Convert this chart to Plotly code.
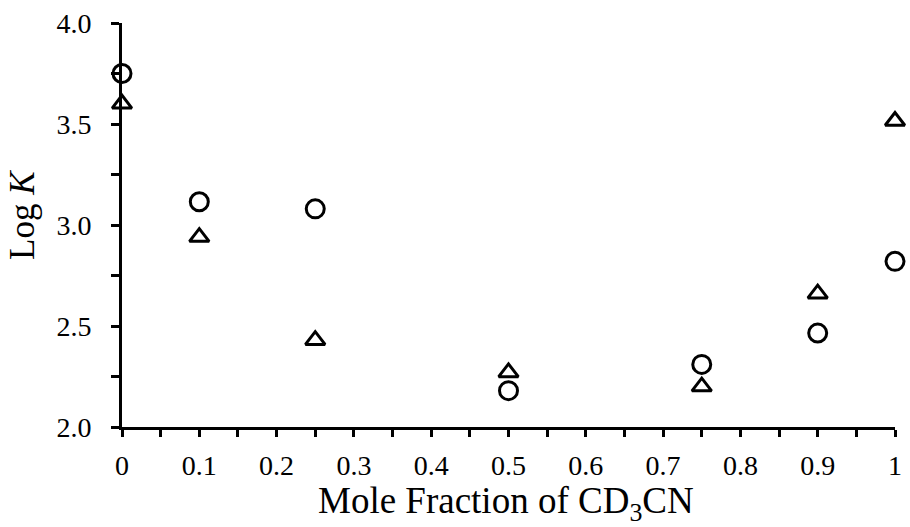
import plotly.graph_objects as go

# Mole fraction of CD3CN in the solvent mixture
mole_fraction = [0, 0.1, 0.25, 0.5, 0.75, 0.9, 1.0]

# Log K values for the two host-guest series
log_k_circle = [3.75, 3.115, 3.08, 2.18, 2.31, 2.465, 2.82]
log_k_triangle = [3.60, 2.94, 2.43, 2.27, 2.20, 2.66, 3.515]

x_tick_vals = [0, 0.1, 0.2, 0.3, 0.4, 0.5, 0.6, 0.7, 0.8, 0.9, 1.0]
x_tick_text = ["0", "0.1", "0.2", "0.3", "0.4", "0.5", "0.6", "0.7", "0.8", "0.9", "1"]
y_tick_vals = [2.0, 2.5, 3.0, 3.5, 4.0]
y_tick_text = ["2.0", "2.5", "3.0", "3.5", "4.0"]

FONT = "Liberation Serif"
TICK_SIZE = 28
XTITLE_SIZE = 37
YTITLE_SIZE = 35

fig = go.Figure()
fig.add_trace(go.Scatter(
    x=mole_fraction, y=log_k_circle, mode="markers",
    marker=dict(symbol="circle-open", size=18, color="black", line=dict(width=3, color="black")),
    cliponaxis=False, showlegend=False,
))
fig.add_trace(go.Scatter(
    x=mole_fraction, y=log_k_triangle, mode="markers",
    marker=dict(symbol="triangle-up-open", size=17, color="black", line=dict(width=3, color="black")),
    cliponaxis=False, showlegend=False,
))

fig.update_layout(
    width=910, height=527,
    margin=dict(l=122, r=8, t=23, b=100),
    paper_bgcolor="white", plot_bgcolor="white",
    font=dict(family=FONT, color="black", size=TICK_SIZE),
    xaxis=dict(
        range=[0, 1], showgrid=False, zeroline=False,
        showline=True, linecolor="black", linewidth=3,
        ticks="outside", ticklen=7, tickwidth=2.5, tickcolor="black",
        tickvals=x_tick_vals, ticktext=x_tick_text,
        minor=dict(dtick=0.05, tick0=0, ticks="outside", ticklen=7, tickwidth=2.5, tickcolor="black"),
        tickfont=dict(size=TICK_SIZE, family=FONT, color="black"),
        ticklabelstandoff=4,
    ),
    yaxis=dict(
        range=[2, 4], showgrid=False, zeroline=False,
        showline=True, linecolor="black", linewidth=3,
        ticks="outside", ticklen=8, tickwidth=2.5, tickcolor="black",
        tickvals=y_tick_vals, ticktext=y_tick_text,
        minor=dict(dtick=0.25, tick0=2, ticks="outside", ticklen=8, tickwidth=2.5, tickcolor="black"),
        tickfont=dict(size=TICK_SIZE, family=FONT, color="black"),
        ticklabelstandoff=14,
    ),
    annotations=[
        dict(text="Mole Fraction of CD<sub>3</sub>CN", xref="paper", yref="paper",
             x=0.497, y=-0.19, xanchor="center", yanchor="middle", showarrow=False,
             font=dict(size=XTITLE_SIZE, family=FONT, color="black")),
        dict(text="Log <i>K</i>", xref="paper", yref="paper", textangle=-90,
             x=-0.128, y=0.525, xanchor="center", yanchor="middle", showarrow=False,
             font=dict(size=YTITLE_SIZE, family=FONT, color="black")),
    ],
)

fig.write_html("out.html")
